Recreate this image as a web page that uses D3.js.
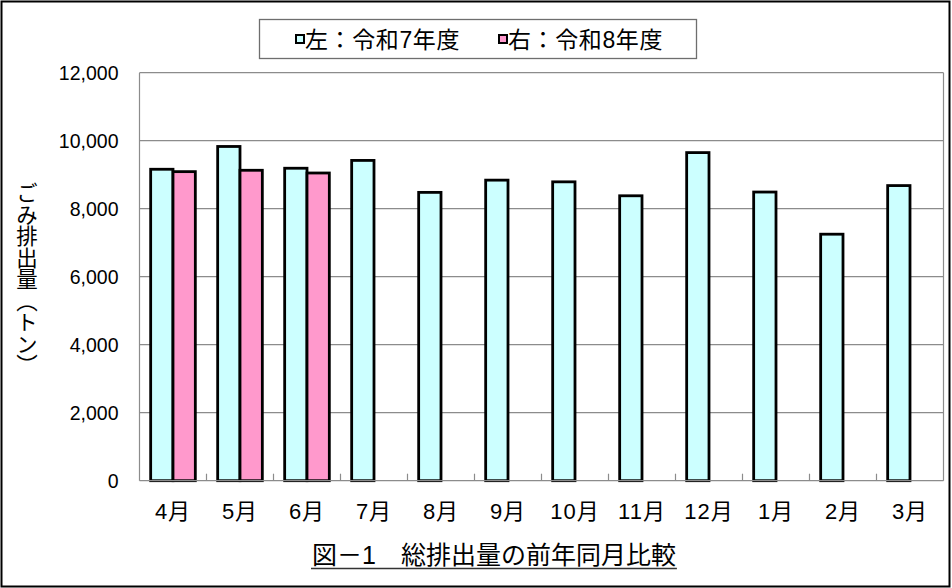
<!DOCTYPE html>
<html>
<head>
<meta charset="utf-8">
<script src="https://cdn.jsdelivr.net/npm/d3@7"></script>
<style>
	body { margin: 0; background: #fff; }
	text { font-family: "Liberation Sans", "Noto Sans CJK JP", sans-serif; fill: #000; }
</style>
</head>
<body>
<svg id="chart" width="952" height="588"></svg>
<script>
// data
const months = ["4月","5月","6月","7月","8月","9月","10月","11月","12月","1月","2月","3月"];
const seriesNames = ["左：令和7年度", "右：令和8年度"];
const r7 = [9160, 9830, 9190, 9420, 8480, 8840, 8790, 8380, 9650, 8490, 7250, 8680];
const r8 = [9090, 9130, 9050];
const yTicks = [0, 2000, 4000, 6000, 8000, 10000, 12000];
const colors = ["#ccffff", "#ff99cc"];

const svg = d3.select("#chart");

// outer frame
svg.append("rect")
	.attr("x", 1.5).attr("y", 1.5)
	.attr("width", 948).attr("height", 585)
	.attr("fill", "#fff")
	.attr("stroke", "#000")
	.attr("stroke-width", 2);

const plot = {left: 139.5, right: 943.5, top: 72.7, bottom: 480.7};

const y = d3.scaleLinear().domain([0, 12000]).range([plot.bottom, plot.top]);
const x0 = d3.scaleBand().domain(months).range([plot.left, plot.right]).padding(0);
const x1 = d3.scaleBand().domain([0, 1]).range([0, x0.bandwidth()])
	.paddingInner(0).paddingOuter(0.5);

// gridlines
svg.append("g").selectAll("line")
	.data(yTicks.slice(1))
	.join("line")
	.attr("x1", plot.left).attr("x2", plot.right)
	.attr("y1", d => y(d)).attr("y2", d => y(d))
	.attr("stroke", "#8c8c8c")
	.attr("stroke-width", 1.2);

// plot border (right side)
svg.append("line")
	.attr("x1", plot.right).attr("x2", plot.right)
	.attr("y1", plot.top).attr("y2", plot.bottom)
	.attr("stroke", "#8c8c8c").attr("stroke-width", 1.2);

// y axis labels
svg.append("g").selectAll("text")
	.data(yTicks)
	.join("text")
	.attr("x", 118.5)
	.attr("y", d => y(d))
	.attr("dy", "0.36em")
	.attr("text-anchor", "end")
	.attr("font-size", 19.5)
	.text(d => d3.format(",")(d));

// bars
const series = [r7, r8];
series.forEach(function(vals, s){
	svg.append("g").selectAll("rect")
		.data(vals)
		.join("rect")
		.attr("x", (d, i) => x0(months[i]) + x1(s))
		.attr("y", d => y(d))
		.attr("width", x1.bandwidth())
		.attr("height", d => plot.bottom - y(d))
		.attr("fill", colors[s])
		.attr("stroke", "#000")
		.attr("stroke-width", 2.8);
});

// axes lines
svg.append("line")
	.attr("x1", plot.left).attr("x2", plot.left)
	.attr("y1", plot.top).attr("y2", plot.bottom)
	.attr("stroke", "#8c8c8c").attr("stroke-width", 1.2);
svg.append("line")
	.attr("x1", plot.left).attr("x2", plot.right)
	.attr("y1", plot.bottom).attr("y2", plot.bottom)
	.attr("stroke", "#8c8c8c").attr("stroke-width", 1.2);

// x ticks (inside, between categories)
svg.append("g").selectAll("line")
	.data(months.slice(1))
	.join("line")
	.attr("x1", d => x0(d)).attr("x2", d => x0(d))
	.attr("y1", plot.bottom).attr("y2", plot.bottom - 7)
	.attr("stroke", "#8c8c8c").attr("stroke-width", 1.2);

// x labels
svg.append("g").selectAll("text")
	.data(months)
	.join("text")
	.attr("x", d => x0(d) + x0.bandwidth() / 2)
	.attr("y", 518.5)
	.attr("text-anchor", "middle")
	.attr("font-size", 22)
	.attr("letter-spacing", 1)
	.text(d => d);

// y axis title (vertical)
svg.append("text")
	.attr("x", 27)
	.attr("y", 279)
	.attr("text-anchor", "middle")
	.attr("font-size", 21.5)
	.style("writing-mode", "vertical-rl")
	.style("font-family", "'Noto Sans CJK JP', sans-serif")
	.text("ごみ排出量（トン）");

// legend
const legend = svg.append("g");
legend.append("rect")
	.attr("x", 259.5).attr("y", 19.5)
	.attr("width", 437).attr("height", 39)
	.attr("fill", "#fff")
	.attr("stroke", "#6e6e6e")
	.attr("stroke-width", 1.3);

const legendX = [296, 499];
seriesNames.forEach(function(name, s){
	legend.append("rect")
		.attr("x", legendX[s]).attr("y", 35)
		.attr("width", 8).attr("height", 8)
		.attr("fill", colors[s])
		.attr("stroke", "#000")
		.attr("stroke-width", 2);
	legend.append("text")
		.attr("x", legendX[s] + 9)
		.attr("y", 47.5)
		.attr("font-size", 23)
		.attr("letter-spacing", 0.6)
		.text(name);
});

// caption with underline
const cap = svg.append("text")
	.attr("x", 312)
	.attr("y", 564)
	.attr("font-size", 25)
	.text("図－1　総排出量の前年同月比較");
const capLen = cap.node().getComputedTextLength();
svg.append("line")
	.attr("x1", 311).attr("x2", 313 + capLen)
	.attr("y1", 568.5).attr("y2", 568.5)
	.attr("stroke", "#333")
	.attr("stroke-width", 1.5);
</script>
</body>
</html>
